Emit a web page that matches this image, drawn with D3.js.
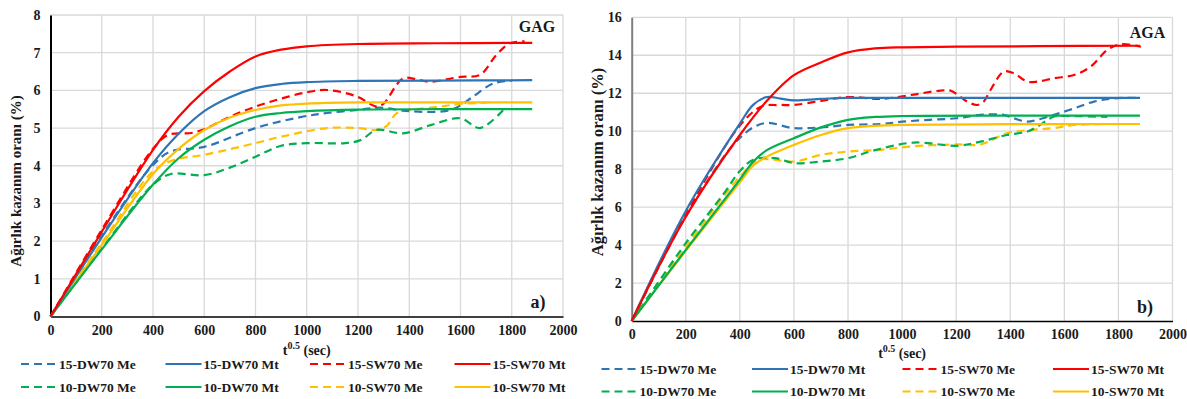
<!DOCTYPE html>
<html>
<head>
<meta charset="utf-8">
<script src="https://cdn.jsdelivr.net/npm/d3@7"></script>
<style>
  body { margin: 0; background: #fff; }
  svg text { font-family: "Liberation Serif", "Times New Roman", serif; font-weight: bold; fill: #1a1a1a; }
</style>
</head>
<body>
<svg id="chart" width="1187" height="399"></svg>
<script>
// ---- data: [t^0.5, weight gain %] ----
// GAG panel (a)
const gagDW15Me = [[0,0],[200,2.15],[400,4.02],[470,4.38],[600,4.5],[800,5.0],[975,5.29],[1080,5.4],[1200,5.48],[1280,5.54],[1400,5.45],[1540,5.45],[1600,5.6],[1650,5.84],[1730,6.19],[1800,6.25]];
const gagDW15Mt = [[0,0],[200,2.1],[400,4.07],[500,4.85],[600,5.45],[700,5.82],[800,6.06],[900,6.17],[1000,6.22],[1200,6.25],[1500,6.26],[1880,6.27]];
const gagSW15Me = [[0,0],[200,2.3],[400,4.45],[460,4.82],[550,4.87],[600,4.97],[700,5.3],[800,5.57],[900,5.78],[1000,5.95],[1080,6.01],[1195,5.84],[1273,5.57],[1300,5.65],[1376,6.32],[1430,6.29],[1480,6.23],[1600,6.36],[1676,6.41],[1740,6.94],[1793,7.25],[1850,7.3]];
const gagSW15Mt = [[0,0],[200,2.25],[400,4.42],[500,5.3],[600,5.98],[700,6.5],[800,6.9],[900,7.08],[1000,7.17],[1200,7.23],[1500,7.25],[1880,7.26]];
const gagDW10Me = [[0,0],[200,1.8],[400,3.5],[470,3.78],[600,3.75],[700,3.95],[800,4.24],[900,4.53],[1000,4.6],[1150,4.6],[1210,4.68],[1273,4.95],[1376,4.86],[1480,5.07],[1598,5.26],[1676,5.0],[1767,5.48]];
const gagDW10Mt = [[0,0],[200,1.78],[400,3.5],[500,4.2],[600,4.69],[700,5.05],[800,5.3],[900,5.4],[1000,5.45],[1200,5.49],[1500,5.5],[1880,5.5]];
const gagSW10Me = [[0,0],[200,1.95],[400,3.85],[480,4.15],[600,4.29],[800,4.6],[900,4.77],[1080,5.0],[1200,5.0],[1273,4.95],[1311,5.05],[1350,5.39],[1403,5.48],[1520,5.57],[1600,5.64],[1720,5.68]];
const gagSW10Mt = [[0,0],[200,1.9],[400,3.78],[500,4.45],[600,4.95],[700,5.28],[800,5.48],[900,5.6],[1000,5.65],[1200,5.68],[1500,5.68],[1880,5.68]];

// AGA panel (b)
const agaDW15Me = [[0,0],[200,5.5],[400,9.65],[490,10.42],[600,10.16],[700,10.2],[800,10.33],[920,10.38],[1000,10.5],[1100,10.6],[1200,10.68],[1290,10.86],[1376,10.86],[1413,10.68],[1463,10.5],[1500,10.6],[1562,10.86],[1636,11.2],[1710,11.56],[1784,11.73],[1880,11.75]];
const agaDW15Mt = [[0,0],[200,5.8],[400,10.4],[450,11.4],[500,11.8],[550,11.72],[600,11.62],[700,11.7],[800,11.75],[1200,11.75],[1880,11.75]];
const agaSW15Me = [[0,0],[200,5.6],[400,10.3],[480,11.3],[540,11.38],[600,11.38],[700,11.6],[800,11.8],[920,11.7],[1043,11.93],[1142,12.14],[1179,12.14],[1204,11.93],[1241,11.56],[1278,11.38],[1302,11.56],[1327,12.17],[1376,13.14],[1413,13.05],[1463,12.61],[1500,12.61],[1562,12.79],[1636,12.96],[1697,13.4],[1759,14.28],[1809,14.58],[1883,14.45]];
const agaSW15Mt = [[0,0],[200,5.5],[400,9.8],[500,11.6],[600,12.95],[700,13.62],[800,14.15],[900,14.36],[1000,14.42],[1200,14.45],[1500,14.48],[1880,14.5]];
const agaDW10Me = [[0,0],[200,4.1],[340,6.7],[400,7.9],[450,8.5],[530,8.58],[600,8.32],[700,8.4],[800,8.58],[900,9.0],[1043,9.4],[1204,9.23],[1290,9.45],[1388,9.8],[1463,9.98],[1500,10.24],[1562,10.77],[1600,10.8],[1759,10.75]];
const agaDW10Mt = [[0,0],[200,3.75],[400,7.45],[450,8.4],[500,9.0],[600,9.63],[700,10.2],[800,10.6],[900,10.75],[1000,10.8],[1400,10.82],[1880,10.82]];
const agaSW10Me = [[0,0],[200,3.9],[400,7.6],[470,8.5],[520,8.5],[600,8.4],[700,8.75],[800,8.93],[920,9.02],[1040,9.2],[1200,9.3],[1290,9.3],[1390,9.9],[1480,10.07],[1560,10.16],[1640,10.33],[1760,10.38]];
const agaSW10Mt = [[0,0],[200,3.7],[400,7.3],[450,8.2],[500,8.66],[600,9.28],[700,9.8],[800,10.16],[900,10.28],[1000,10.33],[1400,10.37],[1880,10.38]];

const seriesNames = ["15-DW70 Me", "15-DW70 Mt", "15-SW70 Me", "15-SW70 Mt", "10-DW70 Me", "10-DW70 Mt", "10-SW70 Me", "10-SW70 Mt"];
const seriesColors = ["#2e75b6", "#2e75b6", "#ff0000", "#ff0000", "#00b050", "#00b050", "#ffc000", "#ffc000"];
const seriesDashed = [true, false, true, false, true, false, true, false];
const xTicks = [0, 200, 400, 600, 800, 1000, 1200, 1400, 1600, 1800, 2000];
const gagYTicks = [0, 1, 2, 3, 4, 5, 6, 7, 8];
const agaYTicks = [0, 2, 4, 6, 8, 10, 12, 14, 16];

const svg = d3.select("#chart");

function drawPanel(p) {
  const x = d3.scaleLinear().domain([0, 2000]).range([p.left, p.right]);
  const y = d3.scaleLinear().domain([0, p.yMax]).range([p.bottom, p.top]);
  const g = svg.append("g");

  // grid
  g.append("g").selectAll("line").data(p.yTicks.slice(1)).join("line")
    .attr("x1", p.left).attr("x2", p.right)
    .attr("y1", d => y(d)).attr("y2", d => y(d))
    .attr("stroke", "#d9d9d9").attr("stroke-width", 1.3);
  g.append("g").selectAll("line").data(xTicks.slice(1)).join("line")
    .attr("x1", d => x(d)).attr("x2", d => x(d))
    .attr("y1", p.top).attr("y2", p.bottom)
    .attr("stroke", "#d9d9d9").attr("stroke-width", 1.3);

  // axes
  const xAxis = g.append("g").attr("transform", `translate(0,${p.bottom})`)
    .call(d3.axisBottom(x).tickValues(xTicks).tickFormat(d3.format("d")).tickSize(0).tickPadding(10));
  xAxis.select(".domain").attr("stroke", "#000").attr("stroke-width", 1.6);
  xAxis.selectAll("text").attr("font-size", 14).attr("dy", p.xLabelDy);

  const yAxis = g.append("g").attr("transform", `translate(${p.left},0)`)
    .call(d3.axisLeft(y).tickValues(p.yTicks).tickFormat(d3.format("d")).tickSize(0).tickPadding(p.yPad));
  yAxis.select(".domain").attr("stroke", p.yAxisColor).attr("stroke-width", 2);
  yAxis.selectAll("text").attr("font-size", 14);

  // series
  const line = d3.line().x(d => x(d[0])).y(d => y(d[1])).curve(d3.curveCatmullRom.alpha(0.5));
  const order = [6, 4, 0, 2, 7, 5, 1, 3];
  order.forEach(i => {
    g.append("path")
      .attr("d", line(p.data[i]))
      .attr("fill", "none")
      .attr("stroke", seriesColors[i])
      .attr("stroke-width", 2.2)
      .attr("stroke-dasharray", seriesDashed[i] ? "8,5" : null);
  });

  // y title
  g.append("text")
    .attr("transform", `translate(${p.yTitleX},${p.yTitleY}) rotate(-90)`)
    .attr("text-anchor", "middle")
    .attr("font-size", p.yTitleSize)
    .text("Ağırlık kazanım oranı (%)");

  // x title
  const xt = g.append("text")
    .attr("x", (p.left + p.right) / 2).attr("y", p.xTitleY)
    .attr("text-anchor", "middle").attr("font-size", 14);
  xt.append("tspan").text("t");
  xt.append("tspan").attr("font-size", 10).attr("dy", -6).text("0.5");
  xt.append("tspan").attr("dy", 6).text(" (sec)");

  // panel labels
  g.append("text").attr("x", p.nameX).attr("y", p.nameY)
    .attr("text-anchor", "middle").attr("font-size", 16).text(p.name);
  g.append("text").attr("x", p.tagX).attr("y", p.tagY)
    .attr("text-anchor", "middle").attr("font-size", 18).text(p.tag);

  // legend
  seriesNames.forEach((name, i) => {
    const col = i % 4, row = Math.floor(i / 4);
    const lx = p.legendX + col * p.legendStep;
    const ly = p.legendY + row * p.legendRowGap;
    g.append("line")
      .attr("x1", lx).attr("x2", lx + 36)
      .attr("y1", ly).attr("y2", ly)
      .attr("stroke", seriesColors[i]).attr("stroke-width", 2.2)
      .attr("stroke-dasharray", seriesDashed[i] ? "8,5" : null);
    g.append("text")
      .attr("x", lx + 38).attr("y", ly + 4.8)
      .attr("font-size", 13.5).text(name);
  });
}

drawPanel({
  left: 50.5, right: 563, top: 15, bottom: 316.5, yMax: 8, yTicks: gagYTicks,
  data: [gagDW15Me, gagDW15Mt, gagSW15Me, gagSW15Mt, gagDW10Me, gagDW10Mt, gagSW10Me, gagSW10Mt],
  yAxisColor: "#000", yPad: 10, xLabelDy: "0.6em",
  yTitleX: 21, yTitleY: 181, yTitleSize: 15, xTitleY: 355,
  name: "GAG", nameX: 537, nameY: 32, tag: "a)", tagX: 538, tagY: 308,
  legendX: 21, legendY: 364, legendStep: 144.5, legendRowGap: 23
});

drawPanel({
  left: 631.7, right: 1172.5, top: 17.3, bottom: 321, yMax: 16, yTicks: agaYTicks,
  data: [agaDW15Me, agaDW15Mt, agaSW15Me, agaSW15Mt, agaDW10Me, agaDW10Mt, agaSW10Me, agaSW10Mt],
  yAxisColor: "#7f7f7f", yPad: 10, xLabelDy: "0.6em",
  yTitleX: 603, yTitleY: 162, yTitleSize: 16.5, xTitleY: 358,
  name: "AGA", nameX: 1147.5, nameY: 38, tag: "b)", tagX: 1145, tagY: 313,
  legendX: 601.5, legendY: 369, legendStep: 150.5, legendRowGap: 22.5
});
</script>
</body>
</html>
